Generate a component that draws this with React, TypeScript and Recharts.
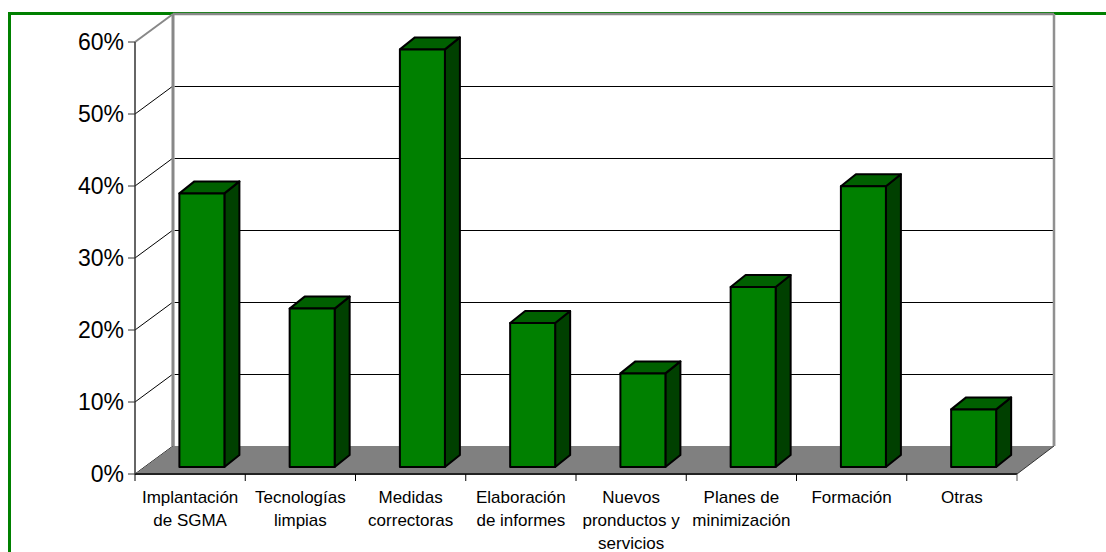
import { Bar, BarChart, CartesianGrid, XAxis, YAxis } from 'recharts'

const CATEGORIES: string[][] = [
  ['Implantación', 'de SGMA'],
  ['Tecnologías', 'limpias'],
  ['Medidas', 'correctoras'],
  ['Elaboración', 'de informes'],
  ['Nuevos', 'pronductos y', 'servicios'],
  ['Planes de', 'minimización'],
  ['Formación'],
  ['Otras'],
]
const SHARES = [0.38, 0.22, 0.58, 0.2, 0.13, 0.25, 0.39, 0.08]
const Y_TICKS = [0, 0.1, 0.2, 0.3, 0.4, 0.5, 0.6]

const data = CATEGORIES.map((lines, i) => ({ key: lines.join(' '), lines, value: SHARES[i] }))

// layout of the pseudo-3D box
const W = 1106
const H = 552
const Y_AXIS_W = 60
const X_AXIS_H = 60
const MARGIN = { top: 42, right: 89, bottom: 18, left: 75 }
const PLOT_LEFT = MARGIN.left + Y_AXIS_W
const PLOT_BOTTOM = H - MARGIN.bottom - X_AXIS_H
const PLOT_W = W - PLOT_LEFT - MARGIN.right
const BAND = PLOT_W / CATEGORIES.length
const DEPTH_X = 38
const DEPTH_Y = 28
// bars stand a little way back on the floor
const BAR_DX = 11.4
const BAR_DY = 7
const BAR_DEPTH_X = 15
const BAR_DEPTH_Y = 12
const FONT = '"Liberation Sans", Arial, sans-serif'

function Box3D(props: any) {
  const { x, y, width, height } = props
  const fx = x + BAR_DX
  const fy = y - BAR_DY
  const bx = BAR_DEPTH_X
  const by = BAR_DEPTH_Y
  const common = { stroke: '#000', strokeWidth: 2, strokeLinejoin: 'round' as const }
  return (
    <g>
      <polygon
        points={`${fx + width},${fy} ${fx + width + bx},${fy - by} ${fx + width + bx},${fy + height - by} ${fx + width},${fy + height}`}
        fill="#004000" {...common} />
      <polygon
        points={`${fx},${fy} ${fx + bx},${fy - by} ${fx + width + bx},${fy - by} ${fx + width},${fy}`}
        fill="#006000" {...common} />
      <rect x={fx} y={fy} width={width} height={height} fill="#008000" {...common} />
    </g>
  )
}

function gridLine(props: any) {
  const { x1, x2, y1, index } = props
  const y = y1
  const bx1 = x1 + DEPTH_X
  const bx2 = x2 + DEPTH_X - 1
  const by = y - DEPTH_Y
  const floorBack = PLOT_BOTTOM - DEPTH_Y
  if (Math.abs(y - PLOT_BOTTOM) < 1) {
    return (
      <g key={`g-${index}`}>
        <line x1={bx1} y1={by - 26} x2={bx1} y2={floorBack} stroke="#888" strokeWidth={3} />
        <line x1={bx2} y1={by - 26} x2={bx2} y2={floorBack} stroke="#909090" strokeWidth={2.5} />
        <line x1={x1} y1={y} x2={bx1} y2={by} stroke="#000" strokeWidth={1} />
        <polygon points={`${x1},${y} ${x2},${y} ${bx2},${by} ${bx1},${by}`} fill="#808080" />
        <line x1={x2} y1={y} x2={bx2} y2={by} stroke="#333" strokeWidth={1} />
      </g>
    )
  }
  if (Math.abs(y - MARGIN.top) < 1) {
    return (
      <g key={`g-${index}`}>
        <line x1={x1} y1={y} x2={bx1} y2={by} stroke="#888" strokeWidth={2} />
        <line x1={bx1} y1={by} x2={bx2} y2={by} stroke="#888" strokeWidth={2.5} />
        <line x1={bx1} y1={by} x2={bx1} y2={floorBack} stroke="#888" strokeWidth={3} />
        <line x1={bx2} y1={by} x2={bx2} y2={floorBack} stroke="#909090" strokeWidth={2.5} />
      </g>
    )
  }
  return (
    <g key={`g-${index}`}>
      <line x1={x1} y1={y} x2={bx1} y2={by} stroke="#000" strokeWidth={1} />
      <line x1={bx1 + 1.5} y1={by + 0.5} x2={bx2 - 1} y2={by + 0.5} stroke="#000" strokeWidth={1} />
    </g>
  )
}

function CategoryTick(props: any) {
  const { x, payload, index } = props
  const item = data[index] ?? data.find(d => d.key === payload.value)
  const lines = item ? item.lines : [String(payload.value)]
  const left = PLOT_LEFT + BAND * index
  return (
    <g>
      <line x1={left} y1={PLOT_BOTTOM} x2={left} y2={PLOT_BOTTOM + 7} stroke="#000" strokeWidth={1} />
      {index === data.length - 1 && (
        <line x1={left + BAND} y1={PLOT_BOTTOM} x2={left + BAND} y2={PLOT_BOTTOM + 7} stroke="#555" strokeWidth={1} />
      )}
      <text textAnchor="middle" fontFamily={FONT} fontSize={17} fill="#000">
        {lines.map((l, i) => (
          <tspan key={i} x={x} y={PLOT_BOTTOM + 29 + i * 23}>{l}</tspan>
        ))}
      </text>
    </g>
  )
}

export default function App() {
  return (
    <div style={{ position: 'fixed', left: 0, top: 0, width: W, height: H, background: '#fff' }}>
      <div style={{
        position: 'absolute', left: 8, top: 12, right: 0, bottom: 0,
        borderLeft: '3px solid #008000', borderTop: '3px solid #008000',
      }} />
      <div style={{ position: 'absolute', left: 0, top: 0 }}>
        <BarChart width={W} height={H} data={data} margin={MARGIN} barSize={45}>
          <CartesianGrid horizontal={gridLine} vertical={false} />
          <XAxis dataKey="key" interval={0} axisLine={{ stroke: '#222', strokeWidth: 2 }}
            tickLine={false} tick={<CategoryTick />} height={X_AXIS_H} />
          <YAxis domain={[0, 0.6]} ticks={Y_TICKS} width={Y_AXIS_W} interval={0}
            tickFormatter={(v: number) => `${Math.round(v * 100)}%`}
            axisLine={{ stroke: '#333', strokeWidth: 1.5 }}
            tickLine={{ stroke: '#333', strokeWidth: 1 }} tickSize={7} tickMargin={4}
            tick={{ fontFamily: FONT, fontSize: 23, fill: '#000' }} />
          <Bar dataKey="value" shape={<Box3D />} isAnimationActive={false} />
        </BarChart>
      </div>
    </div>
  )
}
